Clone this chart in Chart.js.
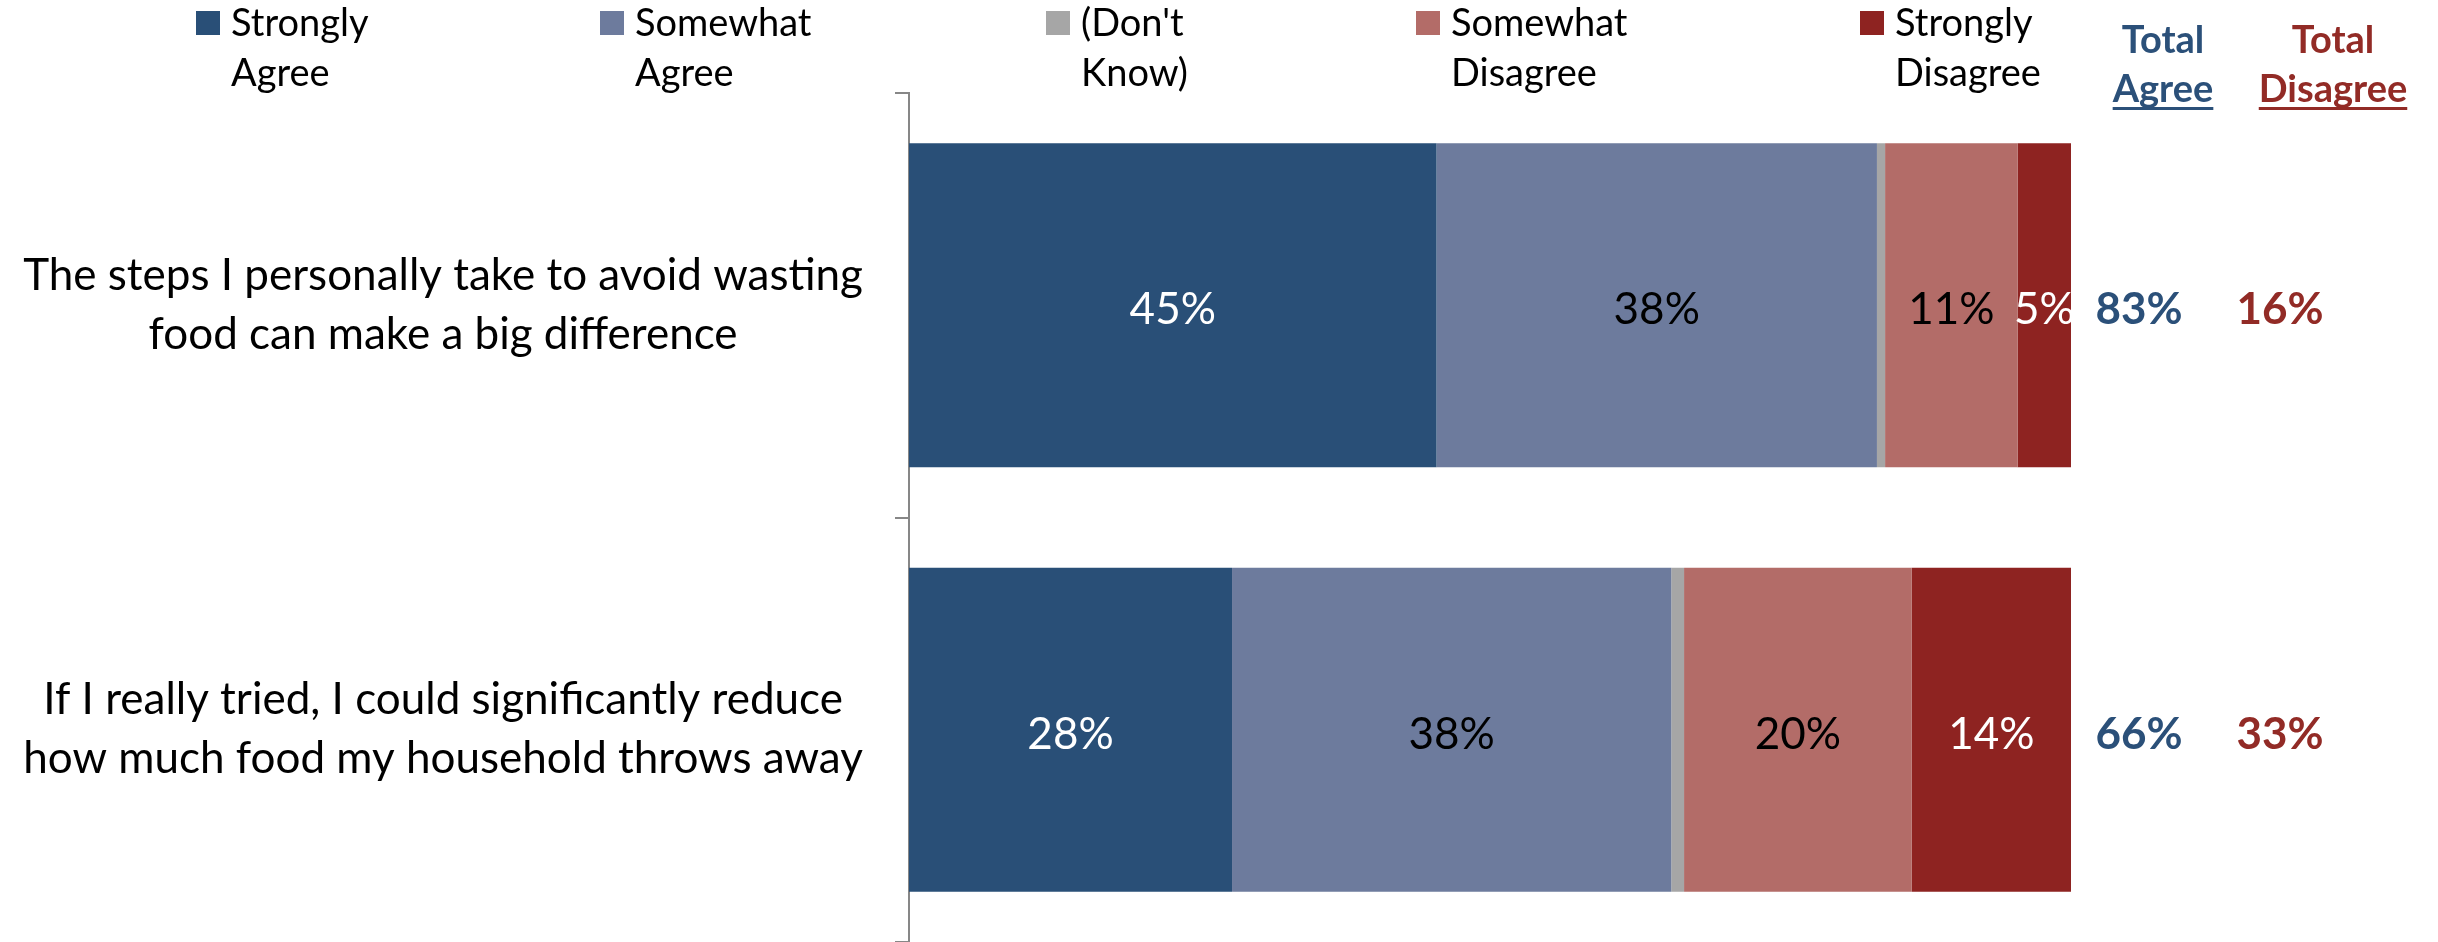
<!DOCTYPE html>
<html lang="en">
    <head>
        <meta charset="UTF-8" />
        <title>Food waste attitudes</title>
        <script src="https://cdn.jsdelivr.net/npm/chart.js@4"></script>
        <style>
            body { margin: 0; background: #fff; }
        </style>
    </head>
    <body>
        <canvas id="myChart" width="2438" height="942"></canvas>

        <script>
            const categories = [
                ["The steps I personally take to avoid wasting", "food can make a big difference"],
                ["If I really tried, I could significantly reduce", "how much food my household throws away"],
            ];
            const seriesNames = [
                ["Strongly", "Agree"],
                ["Somewhat", "Agree"],
                ["(Don't", "Know)"],
                ["Somewhat", "Disagree"],
                ["Strongly", "Disagree"],
            ];
            const strongAgree = [45.4, 27.8];
            const someAgree = [37.9, 37.8];
            const dontKnow = [0.7, 1.1];
            const someDisagree = [11.4, 19.6];
            const strongDisagree = [4.6, 13.7];

            const colors = ["#294f77", "#6d7b9d", "#a6a6a6", "#b36c68", "#8e2321"];
            const labelColors = ["#ffffff", "#000000", null, "#000000", "#ffffff"];
            const agreeColor = "#2b5079";
            const disagreeColor = "#922b26";
            const FONT = "Lato";

            // legend is drawn by hand: two-line labels, uneven spacing like the original
            const legendX = [196, 600, 1046, 1416, 1860];

            const legendPlugin = {
                id: "twoLineLegend",
                afterDraw(chart) {
                    const ctx = chart.ctx;
                    ctx.save();
                    ctx.font = "38px " + FONT;
                    ctx.textAlign = "left";
                    ctx.textBaseline = "alphabetic";
                    seriesNames.forEach((lines, i) => {
                        ctx.fillStyle = colors[i];
                        ctx.fillRect(legendX[i], 11, 24, 24);
                        ctx.fillStyle = "#000";
                        lines.forEach((t, k) => ctx.fillText(t, legendX[i] + 35, 36 + k * 50));
                    });
                    ctx.restore();
                },
            };

            const barLabelPlugin = {
                id: "barLabels",
                afterDatasetsDraw(chart) {
                    const ctx = chart.ctx;
                    const area = chart.chartArea;
                    const dy = 5; // Lato sits a bit high with "middle"
                    ctx.save();
                    ctx.textAlign = "center";
                    ctx.textBaseline = "middle";
                    ctx.font = "44px " + FONT;
                    chart.data.datasets.forEach((ds, i) => {
                        if (!labelColors[i]) return;
                        ctx.fillStyle = labelColors[i];
                        chart.getDatasetMeta(i).data.forEach((bar, j) => {
                            const p = bar.getProps(["x", "y", "base"], true);
                            ctx.fillText(Math.round(ds.data[j]) + "%", (p.x + p.base) / 2, p.y + dy);
                        });
                    });

                    // totals column on the right
                    ctx.font = "bold 44px " + FONT;
                    chart.getDatasetMeta(0).data.forEach((bar, j) => {
                        const y = bar.y + dy;
                        ctx.fillStyle = agreeColor;
                        ctx.fillText(Math.round(strongAgree[j] + someAgree[j]) + "%", area.right + 68, y);
                        ctx.fillStyle = disagreeColor;
                        ctx.fillText(Math.round(someDisagree[j] + strongDisagree[j]) + "%", area.right + 209, y);
                    });

                    // column headers, underlined
                    ctx.font = "bold 38px " + FONT;
                    ctx.textBaseline = "alphabetic";
                    const heads = [
                        { lines: ["Total", "Agree"], x: area.right + 92, color: agreeColor },
                        { lines: ["Total", "Disagree"], x: area.right + 262, color: disagreeColor },
                    ];
                    heads.forEach((h) => {
                        ctx.fillStyle = h.color;
                        ctx.fillText(h.lines[0], h.x, 53);
                        ctx.fillText(h.lines[1], h.x, 102);
                        const w = ctx.measureText(h.lines[1]).width;
                        ctx.fillRect(h.x - w / 2, 107, w, 3);
                    });
                    ctx.restore();
                },
            };

            const makeSet = (i, data) => ({
                label: seriesNames[i].join(" "),
                data: data,
                backgroundColor: colors[i],
                borderWidth: 0,
                barPercentage: 1,
                categoryPercentage: 0.763,
            });

            const config = {
                type: "bar",
                data: {
                    labels: categories,
                    datasets: [
                        makeSet(0, strongAgree),
                        makeSet(1, someAgree),
                        makeSet(2, dontKnow),
                        makeSet(3, someDisagree),
                        makeSet(4, strongDisagree),
                    ],
                },
                options: {
                    indexAxis: "y",
                    responsive: false,
                    animation: false,
                    layout: {
                        padding: { top: 93, right: 367, left: 0, bottom: 0 },
                    },
                    plugins: {
                        legend: { display: false },
                        tooltip: { enabled: false },
                    },
                    scales: {
                        x: {
                            display: false,
                            stacked: true,
                            min: 0,
                            max: 100,
                        },
                        y: {
                            stacked: true,
                            afterFit(scale) {
                                scale.width = 909;
                                // let the axis run to the very bottom like the original
                                scale.paddingTop = 0;
                                scale.paddingBottom = 0;
                            },
                            ticks: {
                                color: "#000",
                                crossAlign: "center",
                                padding: 32,
                                font: { family: FONT, size: 44, lineHeight: 1.34 },
                            },
                            grid: {
                                offset: true,
                                drawOnChartArea: false,
                                tickLength: 14,
                                color: "#878787",
                                lineWidth: 2,
                            },
                            border: { display: true, color: "#878787", width: 2 },
                        },
                    },
                },
                plugins: [legendPlugin, barLabelPlugin],
            };

            const myChart = new Chart(document.getElementById("myChart"), config);
        </script>
    </body>
</html>
